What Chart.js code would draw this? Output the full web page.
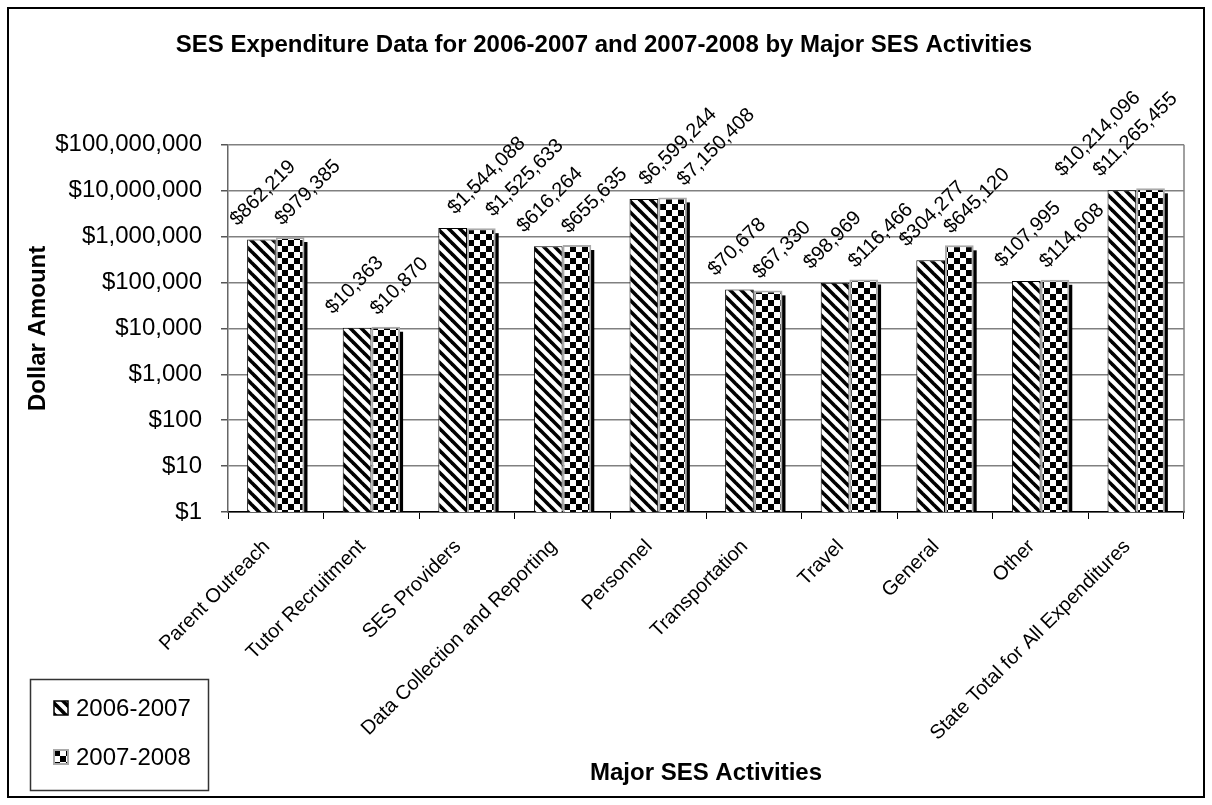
<!DOCTYPE html>
<html>
<head>
<meta charset="utf-8">
<script src="https://cdn.jsdelivr.net/npm/chart.js@4/dist/chart.umd.min.js"></script>
<style>
  html, body { margin: 0; padding: 0; background: #fff; }
  #wrap { position: relative; width: 1212px; height: 805px; }
</style>
</head>
<body>
<div id="wrap"><canvas id="myChart"></canvas></div>
<script>
// data
const activities = ['Parent Outreach', 'Tutor Recruitment', 'SES Providers', 'Data Collection and Reporting',
    'Personnel', 'Transportation', 'Travel', 'General', 'Other', 'State Total for All Expenditures'],
    spend0607 = [862219, 10363, 1544088, 616264, 6599244, 70678, 98969, 304277, 107995, 10214096],
    spend0708 = [979385, 10870, 1525633, 655635, 7150408, 67330, 116466, 645120, 114608, 11265455],
    seriesNames = ['2006-2007', '2007-2008'],
    yTicks = [1, 10, 100, 1000, 10000, 100000, 1000000, 10000000, 100000000];

const FONT = "'Liberation Sans', Arial, sans-serif";
const money = v => '$' + Number(v).toLocaleString('en-US');

// fill patterns
function stripePattern() {
    const c = document.createElement('canvas');
    c.width = 11; c.height = 11;
    const g = c.getContext('2d');
    g.fillStyle = '#fff';
    g.fillRect(0, 0, 11, 11);
    g.strokeStyle = '#000';
    g.lineWidth = 3.6;
    for (let o = -11; o <= 11; o += 11) {
        g.beginPath();
        g.moveTo(o - 2, -2);
        g.lineTo(o + 13, 13);
        g.stroke();
    }
    return g.createPattern(c, 'repeat');
}
function checkerPattern() {
    const c = document.createElement('canvas');
    c.width = 12; c.height = 12;
    const g = c.getContext('2d');
    g.fillStyle = '#fff';
    g.fillRect(0, 0, 12, 12);
    g.fillStyle = '#000';
    g.fillRect(0, 0, 6, 6);
    g.fillRect(6, 6, 6, 6);
    return g.createPattern(c, 'repeat');
}
const stripes = stripePattern(), checks = checkerPattern();

// black drop shadow on the right of the second bar
const barShadow = {
    id: 'barShadow',
    beforeDatasetsDraw(chart) {
        const ctx = chart.ctx;
        ctx.save();
        ctx.fillStyle = '#000';
        chart.getDatasetMeta(1).data.forEach(b => {
            ctx.fillRect(b.x + b.width / 2 - 1, b.y + 5, 4, b.base - b.y - 5);
        });
        ctx.restore();
    }
};

// rotated value labels above bars, kept apart and inside the plot
const valueLabels = {
    id: 'valueLabels',
    afterDatasetsDraw(chart) {
        const ctx = chart.ctx, right = chart.chartArea.right - 6;
        const k = Math.SQRT1_2;
        ctx.save();
        ctx.font = '20px ' + FONT;
        ctx.fillStyle = '#000';
        ctx.textAlign = 'left';
        ctx.textBaseline = 'alphabetic';
        const m0 = chart.getDatasetMeta(0).data, m1 = chart.getDatasetMeta(1).data;
        const d0 = chart.data.datasets[0].data, d1 = chart.data.datasets[1].data;
        const draw = (txt, x, y) => {
            ctx.save();
            ctx.translate(x, y);
            ctx.rotate(-Math.PI / 4);
            ctx.fillText(txt, 0, 0);
            ctx.restore();
        };
        m1.forEach((b1, j) => {
            const b0 = m0[j];
            const t0 = money(d0[j]), t1 = money(d1[j]);
            const w0 = ctx.measureText(t0).width, w1 = ctx.measureText(t1).width;
            let x1 = b1.x - 8 + Math.max(0, t1.length - 8) * 10;
            x1 = Math.min(x1, right - w1 * k);
            let x0 = b0.x - 24 + Math.max(0, t0.length - 8) * 15;
            x0 = Math.min(x0, right - w0 * k, x1 - 38);
            draw(t0, x0, b0.y - 13);
            draw(t1, x1, b1.y - 11);
        });
        ctx.restore();
    }
};

// plot frame, legend box and outer border
const frame = {
    id: 'frame',
    afterDraw(chart) {
        const ctx = chart.ctx, a = chart.chartArea;
        ctx.save();
        ctx.strokeStyle = '#808080';
        ctx.lineWidth = 1.5;
        ctx.beginPath();
        ctx.moveTo(a.right, a.top);
        ctx.lineTo(a.right, a.bottom);
        ctx.stroke();

        // legend
        ctx.strokeStyle = '#333';
        ctx.lineWidth = 1.5;
        ctx.strokeRect(30.5, 679.5, 178, 111);
        ctx.font = '24px ' + FONT;
        ctx.textBaseline = 'middle';
        [[stripes, '#000', 1.5], [checks, '#aaa', 2]].forEach((s, i) => {
            const y = 708 + i * 49;
            ctx.fillStyle = s[0];
            ctx.fillRect(54, y - 7, 14, 14);
            ctx.strokeStyle = s[1];
            ctx.lineWidth = s[2];
            ctx.strokeRect(54, y - 7, 14, 14);
            ctx.fillStyle = '#000';
            ctx.fillText(seriesNames[i], 76, y + 1);
        });

        ctx.strokeStyle = '#000';
        ctx.lineWidth = 2;
        ctx.strokeRect(8, 8, 1196, 789);
        ctx.restore();
    }
};

const chartData = {
    labels: activities,
    datasets: [
        {
            label: seriesNames[0],
            data: spend0607,
            backgroundColor: stripes,
            borderColor: '#000',
            borderWidth: 1
        },
        {
            label: seriesNames[1],
            data: spend0708,
            backgroundColor: checks,
            borderColor: '#aaa',
            borderWidth: 2
        }
    ]
},
chartOptions = {
    responsive: true,
    maintainAspectRatio: false,
    animation: false,
    layout: { padding: { left: 24, right: 28, top: 0, bottom: 17 } },
    datasets: { bar: { categoryPercentage: 0.6, barPercentage: 1 } },
    plugins: {
        legend: { display: false },
        tooltip: { enabled: false },
        title: {
            display: true,
            text: 'SES Expenditure Data for 2006-2007 and 2007-2008 by Major SES Activities',
            color: '#000',
            font: { family: FONT, size: 24, weight: 'bold' },
            padding: { top: 31, bottom: 85 }
        }
    },
    scales: {
        x: {
            grid: { drawOnChartArea: false, offset: true, tickLength: 7, color: '#000' },
            border: { color: '#000', width: 1.5 },
            ticks: { color: '#000', font: { family: FONT, size: 20 }, minRotation: 45, maxRotation: 45, autoSkip: false, padding: 16, labelOffset: -9 },
            title: { display: true, text: 'Major SES Activities', color: '#000', font: { family: FONT, size: 24, weight: 'bold' }, padding: 0 },
            afterFit(s) { s.height = 805 - 17 - 512; }
        },
        y: {
            type: 'logarithmic',
            min: 1,
            max: 100000000,
            grid: { color: '#808080', lineWidth: 1.5, tickLength: 7, tickColor: '#555' },
            border: { color: '#666', width: 1.5 },
            ticks: { color: '#000', font: { family: FONT, size: 24 }, padding: 19, callback: v => money(v) },
            title: { display: true, text: 'Dollar Amount', color: '#000', font: { family: FONT, size: 24, weight: 'bold' }, padding: 0 },
            afterBuildTicks(s) { s.ticks = yTicks.map(v => ({ value: v })); },
            afterFit(s) { s.width = 204; }
        }
    }
};

const ctx = document.getElementById('myChart').getContext('2d');
const myChart = new Chart(ctx, {
    type: 'bar',
    data: chartData,
    options: chartOptions,
    plugins: [barShadow, valueLabels, frame]
});
</script>
</body>
</html>
